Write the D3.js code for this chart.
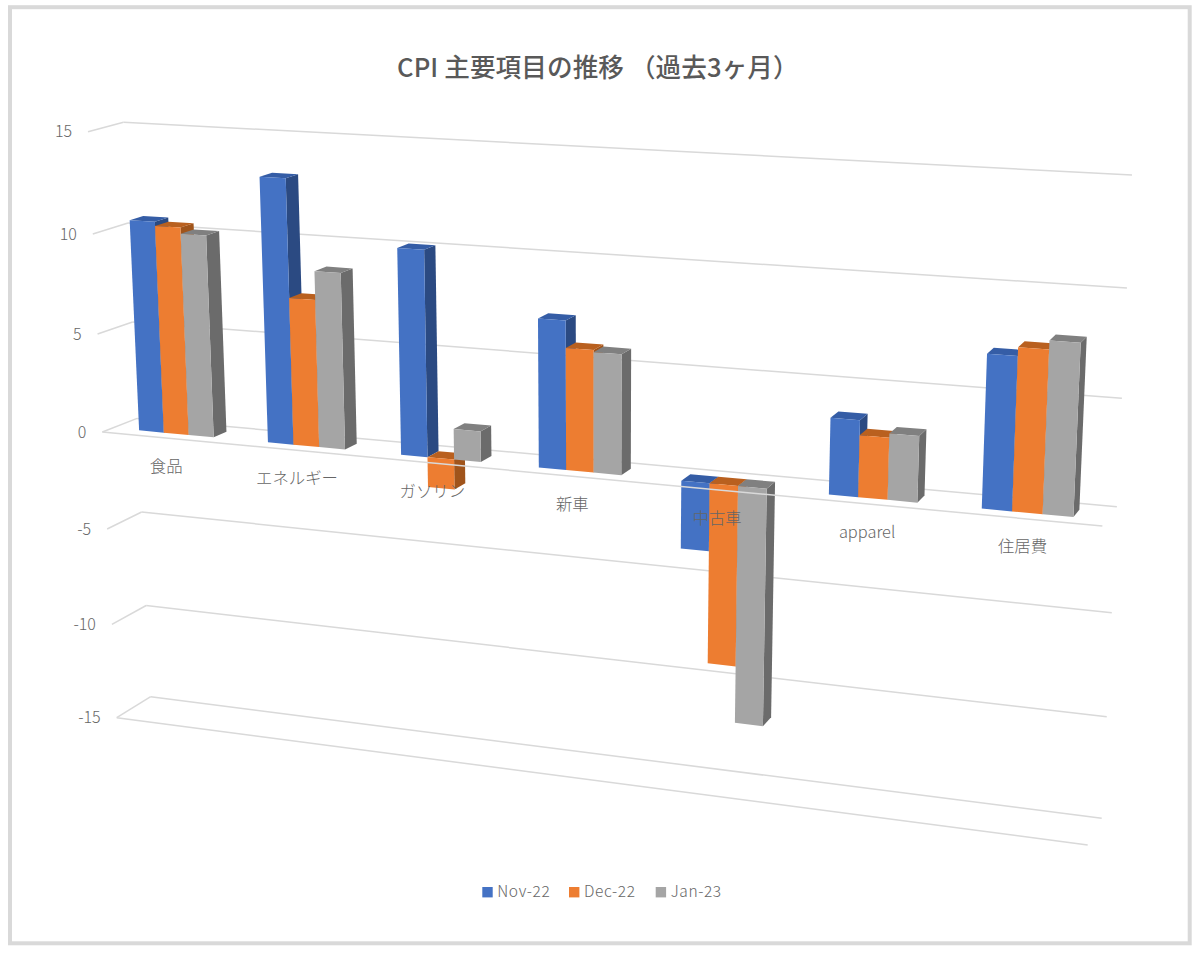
<!DOCTYPE html>
<html>
<head>
<meta charset="utf-8">
<script src="https://cdn.jsdelivr.net/npm/d3@7"></script>
<style>
html, body { margin: 0; padding: 0; background: #fff; }
svg { display: block; }
text { font-family: "Noto Sans CJK JP", "Noto Sans", sans-serif; }
</style>
</head>
<body>
<script>
var categories = ["食品", "エネルギー", "ガソリン", "新車", "中古車", "apparel", "住居費"];
var months = ["Nov-22", "Dec-22", "Jan-23"];
var nov22 = [10.6, 13.1, 10.1, 7.2, -3.3, 3.6, 7.1];
var dec22 = [10.4, 7.3, -1.5, 5.9, -8.8, 2.9, 7.5];
var jan23 = [10.1, 8.7, 1.5, 5.8, -11.6, 3.1, 7.9];
var tickValues = [-15, -10, -5, 0, 5, 10, 15];

var seriesValues = [nov22, dec22, jan23];
var frontColors = ["#4472c4", "#ed7d31", "#a5a5a5"];
var topColors = ["#355da6", "#b9601f", "#808080"];
var sideColors = ["#2b4a82", "#a0541b", "#6b6b6b"];

var width = 1200, height = 959;

var svg = d3.select("body").append("svg")
    .attr("width", width)
    .attr("height", height);

svg.append("rect")
    .attr("x", 10).attr("y", 7.2)
    .attr("width", 1179.7).attr("height", 936.1)
    .attr("fill", "#fff")
    .attr("stroke", "#d9d9d9")
    .attr("stroke-width", 4);

// the four vertical edges of the 3d box
var xFrontLeft = d3.scaleLinear().domain([-15, 15]).range([116.7, 88]);
var xBackLeft = d3.scaleLinear().domain([-15, 15]).range([150.7, 123.5]);
var xFrontRight = d3.scaleLinear().domain([-15, 15]).range([1087.7, 1117]);
var xBackRight = d3.scaleLinear().domain([-15, 15]).range([1101.7, 1132]);

var yFrontLeft = d3.scaleLinear().domain(tickValues).range([717.7, 624.3, 529, 432, 334, 234, 131.7]);
var yBackLeft = d3.scaleLinear().domain(tickValues).range([696.7, 605.5, 512, 418.4, 322, 223, 122.3]);
var yFrontRight = d3.scaleLinear().domain(tickValues).range([845, 740.6, 634.3, 526, 415.6, 302.2, 186.7]);
var yBackRight = d3.scaleLinear().domain(tickValues).range([818.3, 716.7, 612.7, 506.7, 398.3, 288, 175]);

var xCategory = d3.scaleBand().domain(d3.range(categories.length)).range([0, 1])
    .paddingInner(0.417).paddingOuter(0.2085);
var xSeries = d3.scaleBand().domain(d3.range(months.length)).range([0, xCategory.bandwidth()]);

var perspective = 1.128;

function lerp(a, b, t) { return a + (b - a) * t; }

// t: 0..1 along the categories, v: value, d: 0 front .. 1 back
function project(t, v, d) {
  var u = t / (t + perspective * (1 - t));
  var xf = lerp(xFrontLeft(v), xFrontRight(v), u);
  var xb = lerp(xBackLeft(v), xBackRight(v), u);
  var yf = lerp(yFrontLeft(v), yFrontRight(v), u);
  var yb = lerp(yBackLeft(v), yBackRight(v), u);
  return [lerp(xf, xb, d), lerp(yf, yb, d)];
}

var line = d3.line();

function drawGrid(g, from, to) {
  g.append("path")
      .attr("d", line([from, to]))
      .attr("fill", "none")
      .attr("stroke", "#d9d9d9")
      .attr("stroke-width", 1.5);
}

var grid = svg.append("g");
tickValues.forEach(function(v) {
  drawGrid(grid, project(0, v, 0), project(0, v, 1));
  drawGrid(grid, project(0, v, 1), project(1, v, 1));
});
drawGrid(grid, project(0, -15, 0), project(1, -15, 0));

// bars
var depthFront = 0.3, depthBack = 0.69;
var bars = svg.append("g");

categories.forEach(function(c, i) {
  seriesValues.forEach(function(values, s) {
    var v = values[i];
    var t0 = xCategory(i) + xSeries(s);
    var t1 = t0 + xSeries.bandwidth();
    var top = Math.max(v, 0), bottom = Math.min(v, 0);

    var g = bars.append("g").attr("class", "bar");
    g.append("path")
        .attr("d", line([project(t1, top, depthFront), project(t1, top, depthBack),
          project(t1, bottom, depthBack), project(t1, bottom, depthFront)]) + "Z")
        .attr("fill", sideColors[s]);
    g.append("path")
        .attr("d", line([project(t0, top, depthFront), project(t0, top, depthBack),
          project(t1, top, depthBack), project(t1, top, depthFront)]) + "Z")
        .attr("fill", topColors[s]);
    g.append("path")
        .attr("d", line([project(t0, top, depthFront), project(t1, top, depthFront),
          project(t1, bottom, depthFront), project(t0, bottom, depthFront)]) + "Z")
        .attr("fill", frontColors[s]);
  });
});

// the zero axis runs in front of the bars
drawGrid(svg, project(0, 0, 0), project(1, 0, 0));

// value labels
svg.append("g").selectAll("text")
    .data(tickValues)
  .enter().append("text")
    .attr("x", function(d) { return project(0, d, 0)[0] - 16; })
    .attr("y", function(d) { return project(0, d, 0)[1]; })
    .attr("dy", ".35em")
    .attr("text-anchor", "end")
    .attr("font-size", 16)
    .attr("font-weight", 300)
    .attr("fill", "#666")
    .text(function(d) { return d; });

// category labels
svg.append("g").selectAll("text")
    .data(categories)
  .enter().append("text")
    .attr("x", function(d, i) { return project(xCategory(i) + xCategory.bandwidth() / 2, 0, 0)[0]; })
    .attr("y", function(d, i) { return project(xCategory(i) + xCategory.bandwidth() / 2, 0, 0)[1] + 28; })
    .attr("dy", ".35em")
    .attr("text-anchor", "middle")
    .attr("font-size", 16.4)
    .attr("font-weight", 300)
    .attr("fill", "#666")
    .text(function(d) { return d; });

svg.append("text")
    .attr("x", 397)
    .attr("y", 68)
    .attr("dy", ".35em")
    .attr("font-size", 25.6)
    .attr("font-weight", 500)
    .attr("letter-spacing", 0.1)
    .attr("fill", "#595959")
    .text("CPI 主要項目の推移 （過去3ヶ月）");

// legend
var legendX = [482.3, 569, 655.7];
var legend = svg.append("g").selectAll("g")
    .data(months)
  .enter().append("g")
    .attr("transform", function(d, i) { return "translate(" + legendX[i] + ",887)"; });

legend.append("rect")
    .attr("width", 10.4)
    .attr("height", 10.4)
    .attr("fill", function(d, i) { return frontColors[i]; });

legend.append("text")
    .attr("x", 15)
    .attr("y", 5)
    .attr("dy", ".35em")
    .attr("font-size", 15.5)
    .attr("font-weight", 300)
    .attr("letter-spacing", 0.6)
    .attr("fill", "#666")
    .text(function(d) { return d; });
</script>
</body>
</html>
